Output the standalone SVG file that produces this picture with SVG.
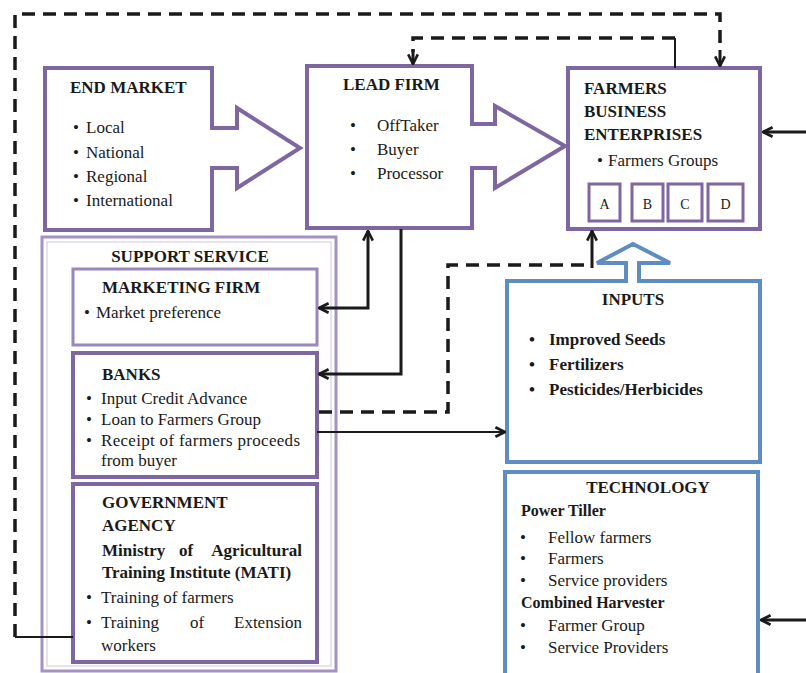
<svg xmlns="http://www.w3.org/2000/svg" width="806" height="673" viewBox="0 0 806 673">
<defs>
<style>
text{font-family:"Liberation Serif","Times New Roman",serif;font-size:17px;fill:#1a1a1a}
.b{font-weight:bold}
.h{font-weight:bold;font-size:17px}
.s{font-size:17px}
.pb{fill:#fff;stroke:#7e67a0;stroke-width:4;stroke-linejoin:miter}
.pl{fill:#fff;stroke:#9a87bb;stroke-width:3}
.bl{fill:#fff;stroke:#5f8dc0;stroke-width:4}
.c{fill:none;stroke:#1a1a1a;stroke-width:3}
.ct{fill:none;stroke:#1a1a1a;stroke-width:2}
.d{fill:none;stroke:#1a1a1a;stroke-width:3.5;stroke-dasharray:13 8}
</style>
<marker id="ah" viewBox="0 0 10 10" refX="9" refY="5" markerWidth="12" markerHeight="12" markerUnits="userSpaceOnUse" orient="auto-start-reverse">
<path d="M1,1 L9,5 L1,9" fill="none" stroke="#1a1a1a" stroke-width="2.2"/>
</marker>
</defs>
<rect width="806" height="673" fill="#fff"/>

<g id="end-market">
<path class="pb" d="M45,68 H212 V128 H237 V108 L300,148 L237,188 V168 H212 V230 H45 Z"/>
<text class="h" x="70" y="93">END MARKET</text>
<text class="s" x="73" y="133">•</text><text x="86" y="133">Local</text>
<text class="s" x="73" y="158">•</text><text x="86" y="158">National</text>
<text class="s" x="73" y="182">•</text><text x="86" y="182">Regional</text>
<text class="s" x="73" y="206">•</text><text x="86" y="206">International</text>
</g>

<g id="lead-firm">
<path class="pb" d="M307,66 H472 V124 H495 V106 L565,146 L495,188 V168 H472 V228 H307 Z"/>
<text class="h" x="343" y="90">LEAD FIRM</text>
<text class="s" x="350" y="131">•</text><text x="377" y="131">OffTaker</text>
<text class="s" x="350" y="155">•</text><text x="377" y="155">Buyer</text>
<text class="s" x="350" y="179">•</text><text x="377" y="179">Processor</text>
</g>

<g id="farmers-business-enterprises">
<rect class="pb" x="568" y="68" width="192" height="161"/>
<text class="h" x="584" y="94">FARMERS</text>
<text class="h" x="584" y="117">BUSINESS</text>
<text class="h" x="584" y="140">ENTERPRISES</text>
<text class="s" x="597" y="166">•</text><text x="608" y="166">Farmers Groups</text>
<rect class="pb" style="stroke-width:3" x="589" y="184" width="31" height="37"/>
<rect class="pb" style="stroke-width:3" x="632" y="184" width="31" height="37"/>
<rect class="pb" style="stroke-width:3" x="668" y="184" width="34" height="37"/>
<rect class="pb" style="stroke-width:3" x="708" y="184" width="35" height="37"/>
<text x="604.5" y="209" text-anchor="middle" style="font-size:14px">A</text>
<text x="647.5" y="209" text-anchor="middle" style="font-size:14px">B</text>
<text x="685" y="209" text-anchor="middle" style="font-size:14px">C</text>
<text x="725.5" y="209" text-anchor="middle" style="font-size:14px">D</text>
</g>

<g id="support-service">
<rect x="42" y="237" width="294" height="434" fill="#fff" stroke="#a392c2" stroke-width="3"/>
<rect x="47" y="242" width="284" height="424" fill="none" stroke="#cfc6de" stroke-width="1"/>
<text class="h" x="190" y="262" text-anchor="middle">SUPPORT SERVICE</text>
</g>

<g id="marketing-firm">
<rect class="pl" x="73" y="269" width="244" height="76"/>
<text class="h" x="102" y="293">MARKETING FIRM</text>
<text class="s" x="84" y="318">•</text><text x="96" y="318">Market preference</text>
</g>

<g id="banks">
<rect class="pb" x="73" y="353" width="244" height="124"/>
<text class="h" x="102" y="380">BANKS</text>
<text class="s" x="86" y="404">•</text><text x="101" y="404">Input Credit Advance</text>
<text class="s" x="86" y="425">•</text><text x="101" y="425">Loan to Farmers Group</text>
<text class="s" x="86" y="446">•</text><text x="101" y="446" textLength="199" lengthAdjust="spacing">Receipt of farmers proceeds</text>
<text x="101" y="466">from buyer</text>
</g>

<g id="government-agency">
<rect class="pb" x="73" y="484" width="244" height="178"/>
<text class="h" x="102" y="508">GOVERNMENT</text>
<text class="h" x="102" y="531">AGENCY</text>
<text class="b" x="102" y="556">Ministry</text>
<text class="b" x="179" y="556">of</text>
<text class="b" x="302" y="556" text-anchor="end">Agricultural</text>
<text class="b" x="102" y="578">Training Institute (MATI)</text>
<text class="s" x="86" y="603">•</text><text x="101" y="603">Training of farmers</text>
<text class="s" x="86" y="628">•</text><text x="101" y="628">Training</text>
<text x="190" y="628">of</text>
<text x="302" y="628" text-anchor="end">Extension</text>
<text x="101" y="651">workers</text>
</g>

<g id="inputs">
<path class="bl" d="M507,281 H626 V263 H597 L633,244 L670,263 H639 V281 H760 V462 H507 Z"/>
<text class="h" x="633" y="305" text-anchor="middle">INPUTS</text>
<text class="s b" x="529" y="345">•</text><text class="b" x="549" y="345">Improved Seeds</text>
<text class="s b" x="529" y="370">•</text><text class="b" x="549" y="370">Fertilizers</text>
<text class="s b" x="529" y="395">•</text><text class="b" x="549" y="395">Pesticides/Herbicides</text>
</g>

<g id="technology">
<rect class="bl" x="505" y="472" width="253" height="210"/>
<text class="h" x="648" y="493" text-anchor="middle">TECHNOLOGY</text>
<text class="b" x="521" y="516" style="font-size:16px">Power Tiller</text>
<text class="s" x="520" y="543">•</text><text x="548" y="543">Fellow farmers</text>
<text class="s" x="520" y="564">•</text><text x="548" y="564">Farmers</text>
<text class="s" x="520" y="586">•</text><text x="548" y="586">Service providers</text>
<text class="b" x="521" y="608" style="font-size:16px">Combined Harvester</text>
<text class="s" x="520" y="631">•</text><text x="548" y="631">Farmer Group</text>
<text class="s" x="520" y="653">•</text><text x="548" y="653">Service Providers</text>
</g>

<g id="connectors">
<path class="ct" d="M73,637 H15"/>
<path class="d" d="M15,637 V14 H720 V50"/>
<path class="c" d="M720,50 V66" marker-end="url(#ah)"/>
<path class="ct" d="M675,68 V38"/>
<path class="d" d="M675,38 H413 V52"/>
<path class="c" d="M413,50 V64" marker-end="url(#ah)"/>
<path class="c" d="M368,231 V308 H319" marker-start="url(#ah)" marker-end="url(#ah)"/>
<path class="c" d="M401,229 V374 H319" marker-end="url(#ah)"/>
<path class="d" d="M319,412 H448 V265 H592"/>
<path class="c" d="M592,268 V231" marker-end="url(#ah)"/>
<path class="ct" d="M317,432 H505" marker-end="url(#ah)"/>
<path class="c" d="M806,132 H763" marker-end="url(#ah)"/>
<path class="c" d="M806,620 H761" marker-end="url(#ah)"/>
</g>
</svg>
